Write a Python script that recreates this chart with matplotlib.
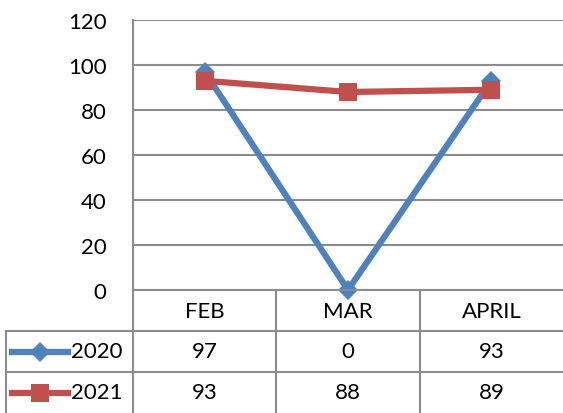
import numpy as np
import matplotlib.pyplot as plt
from matplotlib.lines import Line2D

months = ['FEB', 'MAR', 'APRIL']
series_names = ['2020', '2021']
vals_2020 = [97, 0, 93]
vals_2021 = [93, 88, 89]
y_ticks = [0, 20, 40, 60, 80, 100, 120]

blue = '#4F81BD'
red = '#C0504D'
grid_c = '#8C8C8C'

plt.rcParams['font.family'] = ['Lato', 'DejaVu Sans']

W, H = 563, 414
fig = plt.figure(figsize=(W / 100, H / 100), dpi=100)

x0 = 133 / W
ybot = 123 / H
ytop = 1 - 21 / H
ax = fig.add_axes([x0, ybot, 1 - x0, ytop - ybot])
x = np.arange(len(months))

ax.set_xlim(-0.5, len(months) - 0.5)
ax.set_ylim(0, 120)
ax.set_yticks(y_ticks)
ax.set_xticks([])
ax.tick_params(axis='y', length=0, labelsize=16, pad=19)
ax.grid(axis='y', color=grid_c, linewidth=1.5)
ax.set_axisbelow(True)
for s in ['top', 'right', 'bottom']:
    ax.spines[s].set_visible(False)
ax.spines['left'].set_color(grid_c)
ax.spines['left'].set_linewidth(1.5)

ax.plot(x, vals_2020, color=blue, linewidth=4.5, marker='D', markersize=10,
        markeredgewidth=0, clip_on=False, zorder=3)
ax.plot(x, vals_2021, color=red, linewidth=4.5, marker='s', markersize=13,
        markeredgewidth=0, clip_on=False, zorder=4)

# data table under the plot
tax = fig.add_axes([x0, 0, 1 - x0, ybot])
tax.set_xlim(-0.5, len(months) - 0.5)
tax.set_ylim(0, 3)
tax.axis('off')

left = -0.5 - 127 / 143
lk = dict(color=grid_c, linewidth=1.5, clip_on=False)
tax.plot([-0.5, len(months) - 0.5], [3, 3], **lk)
for yy in [2, 1]:
    tax.plot([left, len(months) - 0.5], [yy, yy], **lk)
for xx in np.arange(len(months)) - 0.5:
    tax.plot([xx, xx], [0, 3], **lk)
tax.plot([left, left], [0, 2], **lk)

for i, m in enumerate(months):
    tax.text(i, 2.5, m, ha='center', va='center', fontsize=16)
    tax.text(i, 1.5, str(vals_2020[i]), ha='center', va='center', fontsize=16)
    tax.text(i, 0.5, str(vals_2021[i]), ha='center', va='center', fontsize=16)

for row, name, col, mk, ms in [(1.5, series_names[0], blue, 'D', 10),
                               (0.5, series_names[1], red, 's', 13)]:
    tax.add_line(Line2D([-1.346, -0.955], [row, row], color=col, linewidth=4.5,
                        clip_on=False))
    tax.add_line(Line2D([-1.15], [row], color=col, marker=mk, markersize=ms,
                        markeredgewidth=0, clip_on=False))
    tax.text(-0.93, row, name, ha='left', va='center', fontsize=16)

fig.savefig('out.png', dpi=100)
